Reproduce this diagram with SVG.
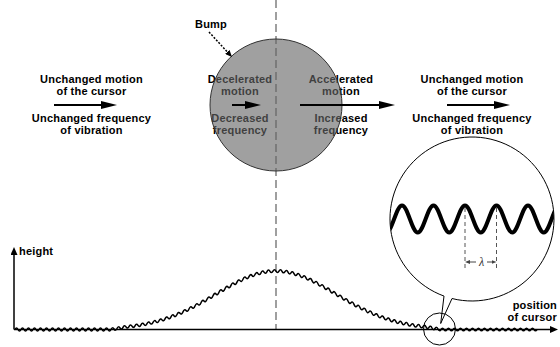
<svg xmlns="http://www.w3.org/2000/svg" width="560" height="347" viewBox="0 0 560 347">
<style>
.t{font-family:"Liberation Sans",Arial,sans-serif;font-size:11px;letter-spacing:0.2px;font-weight:bold;fill:#000;text-anchor:middle}
.arr{stroke:#000;stroke-width:2;fill:none;marker-end:url(#ah)}
.ax{stroke:#000;stroke-width:1.5;fill:none;marker-end:url(#axh)}
.dash{stroke:#808080;stroke-width:1.5;stroke-dasharray:8 4;fill:none}
</style>
<defs>
<marker id="ah" markerUnits="userSpaceOnUse" markerWidth="16" markerHeight="10" viewBox="0 0 16 10" refX="8" refY="5" orient="auto"><path d="M0,1 L16,5 L0,9 z" fill="#000"/></marker>
<marker id="axh" markerUnits="userSpaceOnUse" markerWidth="8" markerHeight="7" viewBox="0 0 8 7" refX="4" refY="3.5" orient="auto"><path d="M0,0 L8,3.5 L0,7 z" fill="#000"/></marker>
<marker id="sh" markerUnits="userSpaceOnUse" markerWidth="7" markerHeight="6" viewBox="0 0 7 6" refX="3" refY="3" orient="auto"><path d="M0,0 L7,3 L0,6 z" fill="#000"/></marker>
<marker id="lh" markerUnits="userSpaceOnUse" markerWidth="5" markerHeight="4" viewBox="0 0 5 4" refX="2" refY="2" orient="auto"><path d="M0,0 L5,2 L0,4 z" fill="#444"/></marker>
<clipPath id="mag"><circle cx="472" cy="219" r="82"/></clipPath>
</defs>

<g id="left-text">
<text class="t" x="91.5" y="82.5">Unchanged motion<tspan x="91.5" dy="12.5">of the cursor</tspan></text>
<text class="t" x="91.5" y="121.5">Unchanged frequency<tspan x="91.5" dy="12.5">of vibration</tspan></text>
</g>

<g id="right-text">
<text class="t" x="472" y="82.5">Unchanged motion<tspan x="472" dy="12.5">of the cursor</tspan></text>
<text class="t" x="472" y="121.5">Unchanged frequency<tspan x="472" dy="12.5">of vibration</tspan></text>
</g>

<g id="decel">
<text class="t" x="240" y="82.5">Decelerated<tspan x="240" dy="12.5">motion</tspan></text>
<text class="t" x="240" y="121.5">Decreased<tspan x="240" dy="12.5">frequency</tspan></text>
</g>

<g id="accel">
<text class="t" x="341" y="82.5">Accelerated<tspan x="341" dy="12.5">motion</tspan></text>
<text class="t" x="341" y="121.5">Increased<tspan x="341" dy="12.5">frequency</tspan></text>
</g>

<line id="center-line" class="dash" x1="276" y1="0" x2="276" y2="329"/>

<g id="bump">
<circle cx="276" cy="105" r="66" fill="#666" fill-opacity="0.62" stroke="#333" stroke-width="1"/>
<text class="t" x="211" y="27.5">Bump</text>
</g>

<g id="magnifier">
<path d="M452,298.52 A82,82 0 1 0 444,296.07 L440.7,323.5 Z" fill="#fff" stroke="#000" stroke-width="1"/>
<path clip-path="url(#mag)" d="M370.5,205.5 C376.22,205.5 380.53,232.5 386.25,232.5 S396.28,205.5 402,205.5 S412.03,232.5 417.75,232.5 S427.78,205.5 433.5,205.5 S443.53,232.5 449.25,232.5 S459.28,205.5 465,205.5 S475.03,232.5 480.75,232.5 S490.78,205.5 496.5,205.5 S506.53,232.5 512.25,232.5 S522.28,205.5 528,205.5 S538.03,232.5 543.75,232.5 S553.78,205.5 559.5,205.5" fill="none" stroke="#000" stroke-width="4"/>
<line x1="465" y1="208" x2="465" y2="268" stroke="#555" stroke-width="1" stroke-dasharray="4 3"/>
<line x1="496.5" y1="208" x2="496.5" y2="268" stroke="#555" stroke-width="1" stroke-dasharray="4 3"/>
<line x1="476" y1="262" x2="468" y2="262" stroke="#444" stroke-width="1" marker-end="url(#lh)"/>
<line x1="487" y1="262" x2="493.5" y2="262" stroke="#444" stroke-width="1" marker-end="url(#lh)"/>
<text x="481.5" y="266" font-family="'Liberation Serif',serif" font-style="italic" font-size="12" fill="#333" text-anchor="middle">λ</text>
</g>

<g id="graph">
<text class="t" x="19" y="255" style="text-anchor:start">height</text>
<text class="t" x="557" y="308.5" style="text-anchor:end">position<tspan x="557" dy="12.5">of cursor</tspan></text>
<circle cx="439.5" cy="329" r="16" fill="none" stroke="#000" stroke-width="1"/>
<path id="wave" fill="none" stroke="#000" stroke-width="1.5" d="M15,329.5 Q16.5,326.5 18,329.5 t3,0 t3,0 t3,0 t3,0 t3,0 t3,0 t3,0 t3,0 t3,0 t3,0 t3,0 t3,0 t3,0 t3,0 t3,0 t3,0 t3,0 t3,0 t3,0 t3,0 t3,0 t3,0 t3,0 t3,0 t3,0 t3,0 t3,0 t3,0 t3,0 t3,0 t3,0 T114,329 T117,328.5 T120,328 T123,327.45 T126,326.93 T129,326.59 T132,326.22 T135,325.81 T138,325.35 T141,324.85 T144,324.31 T147,323.7 T150,323.06 T153,322.35 T156,321.59 T159,320.76 T162,319.88 T165,318.92 T168,317.92 T171,316.84 T174,315.7 T177,314.5 T180,313.23 T183,311.89 T186,310.51 T189,309.05 T192,307.54 T195,305.98 T198,304.37 T201,302.72 T204,301.04 T207,299.31 T210,297.57 T213,295.81 T216,294.03 T219,292.26 T222,290.49 T225,288.75 T228,287.03 T231,285.35 T234,283.72 T237,282.15 T240,280.64 T243,279.23 T246,277.89 T249,276.65 T252,275.51 T255,274.5 T258,273.59 T261,272.81 T264,272.18 T267,271.67 T270,271.31 T273,271.09 T276,271.02 T279,271.09 T282,271.31 T285,271.67 T288,272.18 T291,272.81 T294,273.59 T297,274.5 T300,275.51 T303,276.65 T306,277.89 T309,279.23 T312,280.64 T315,282.15 T318,283.72 T321,285.35 T324,287.03 T327,288.75 T330,290.49 T333,292.26 T336,294.03 T339,295.81 T342,297.57 T345,299.31 T348,301.04 T351,302.72 T354,304.37 T357,305.98 T360,307.54 T363,309.05 T366,310.51 T369,311.89 T372,313.23 T375,314.5 T378,315.7 T381,316.84 T384,317.92 T387,318.92 T390,319.88 T393,320.76 T396,321.59 T399,322.35 T402,323.06 T405,323.7 T408,324.31 T411,324.85 T414,325.35 T417,325.81 T420,326.22 T423,326.59 T426,326.93 T429,327.45 T432,328 T435,328.5 T438,329 T441,329.5 t3,0 t3,0 t3,0 t3,0 t3,0 t3,0 t3,0 t3,0 t3,0 t3,0 t3,0 t3,0 t3,0 t3,0 t3,0 t3,0 t3,0 t3,0 t3,0 t3,0 t3,0 t3,0 t3,0 t3,0 t3,0 t3,0 t3,0 t3,0 t3,0 t3,0 t3,0 t3,0"/>
</g>

<g id="connectors">
<line class="arr" x1="54" y1="105" x2="109" y2="105"/>
<line class="arr" x1="232" y1="105" x2="253" y2="105"/>
<line class="arr" x1="300" y1="105" x2="387" y2="105"/>
<line class="arr" x1="447" y1="105" x2="502" y2="105"/>
<line x1="209" y1="32" x2="229.3" y2="54.1" stroke="#000" stroke-width="1.5" stroke-dasharray="2 1.5" marker-end="url(#sh)"/>
<line class="ax" x1="14" y1="329.5" x2="554" y2="329.5"/>
<line class="ax" x1="14" y1="329.5" x2="14" y2="251"/>
</g>
</svg>
